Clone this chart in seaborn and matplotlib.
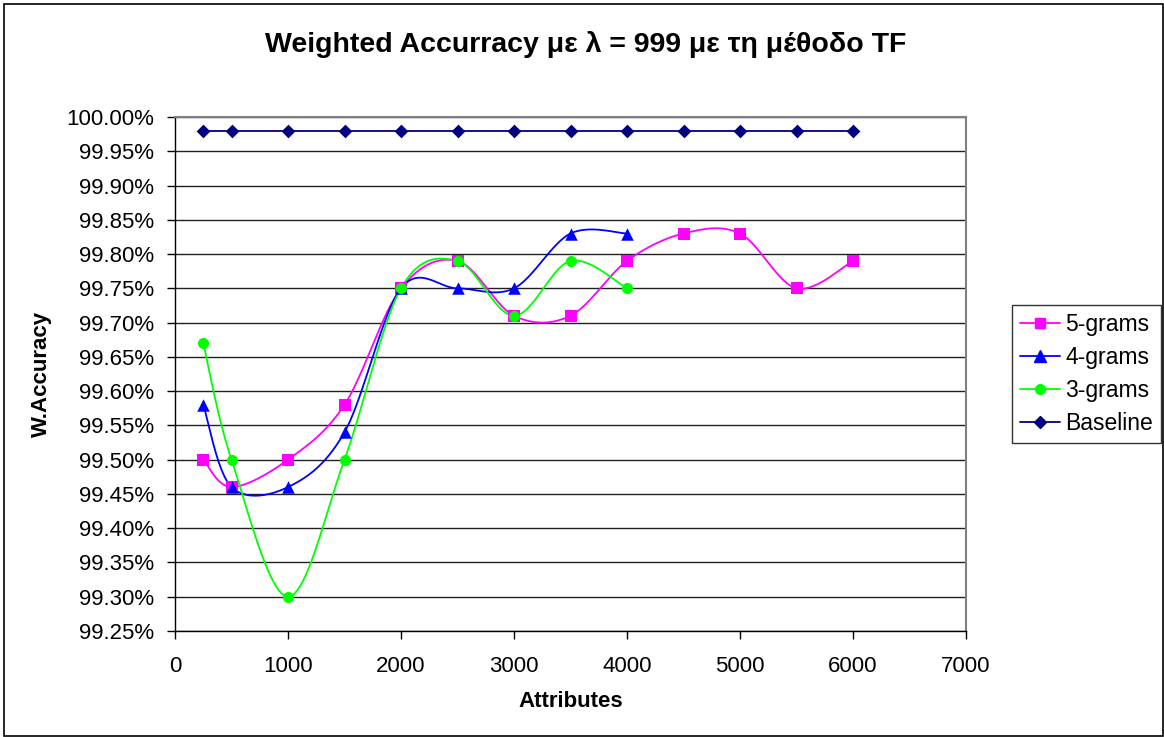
import numpy as np
import pandas as pd
import matplotlib
matplotlib.use("Agg")
import matplotlib.pyplot as plt
from matplotlib.lines import Line2D
from matplotlib.patches import Rectangle
from matplotlib.ticker import FuncFormatter, MultipleLocator
import seaborn as sns

# ---- data ----
x_attrs = [250, 500, 1000, 1500, 2000, 2500, 3000, 3500, 4000, 4500, 5000, 5500, 6000]
grams5 = [99.50, 99.46, 99.50, 99.58, 99.75, 99.79, 99.71, 99.71, 99.79, 99.83, 99.83, 99.75, 99.79]
grams4 = [99.58, 99.46, 99.46, 99.54, 99.75, 99.75, 99.75, 99.83, 99.83]
grams3 = [99.67, 99.50, 99.30, 99.50, 99.75, 99.79, 99.71, 99.79, 99.75]
baseline = [99.98] * 13

series_names = ["5-grams", "4-grams", "3-grams", "Baseline"]
series_vals = [grams5, grams4, grams3, baseline]
colors = ["#FF00FF", "#0000FF", "#00FF00", "#000080"]
markers = ["s", "^", "o", "D"]
msizes = [8, 9, 8, 7]

title = "Weighted Accurracy με λ = 999 με τη μέθοδο TF"
xlabel = "Attributes"
ylabel = "W.Accuracy"


def excel_smooth(xs, ys, n=30):
    """Excel-style smoothed line: cubic Bezier with Catmull-Rom control points."""
    xs = np.asarray(xs, float)
    ys = np.asarray(ys, float)
    sx = 791.0 / 7000.0
    sy = 514.0 / 0.75
    P = np.column_stack([xs * sx, ys * sy])
    out = []
    m = len(P)
    for i in range(m - 1):
        p0 = P[i - 1] if i > 0 else P[i]
        p1 = P[i]
        p2 = P[i + 1]
        p3 = P[i + 2] if i + 2 < m else P[i + 1]
        c1 = p1 + (p2 - p0) / 6.0
        c2 = p2 - (p3 - p1) / 6.0
        t = np.linspace(0, 1, n)[:, None]
        seg = ((1 - t) ** 3) * p1 + 3 * ((1 - t) ** 2) * t * c1 + 3 * (1 - t) * t ** 2 * c2 + t ** 3 * p2
        if i > 0:
            seg = seg[1:]
        out.append(seg)
    out = np.vstack(out)
    return out[:, 0] / sx, out[:, 1] / sy


sns.set_theme(style="white")
plt.rcParams["font.family"] = ["Liberation Sans", "DejaVu Sans"]
plt.rcParams["text.color"] = "black"
plt.rcParams["axes.labelcolor"] = "black"

fig = plt.figure(figsize=(11.64, 7.37), dpi=100)
ax = fig.add_axes([175 / 1164, 1 - 631 / 737, (966 - 175) / 1164, (631 - 117) / 737])

handles = []
for name, vals, c, mk, ms in zip(series_names, series_vals, colors, markers, msizes):
    xs = x_attrs[:len(vals)]
    sx_, sy_ = excel_smooth(xs, vals)
    df_line = pd.DataFrame({"x": sx_, "y": sy_})
    sns.lineplot(data=df_line, x="x", y="y", ax=ax, color=c, lw=1.3, sort=False,
                 estimator=None, zorder=3)
    df_pts = pd.DataFrame({"x": xs, "y": vals})
    sns.scatterplot(data=df_pts, x="x", y="y", ax=ax, color=c, marker=mk, s=ms ** 2,
                    edgecolor=c, linewidth=0, zorder=4)
    handles.append(Line2D([0], [0], color=c, lw=1.3, marker=mk, markersize=ms - 1,
                          markerfacecolor=c, markeredgecolor=c, label=name))

ax.set_xlim(0, 7000)
ax.set_ylim(99.25, 100.0)
ax.xaxis.set_major_locator(MultipleLocator(1000))
ax.yaxis.set_major_locator(MultipleLocator(0.05))
ax.yaxis.set_major_formatter(FuncFormatter(lambda v, p: f"{v:.2f}%"))
ax.grid(True, axis="y", color="#202020", lw=1.0)
ax.grid(False, axis="x")
ax.set_axisbelow(True)
for side in ["top", "right"]:
    ax.spines[side].set_color("#808080")
    ax.spines[side].set_linewidth(1.5)
for side in ["left", "bottom"]:
    ax.spines[side].set_color("black")
    ax.spines[side].set_linewidth(1.0)
ax.tick_params(axis="both", which="major", direction="out", length=6, width=1,
               color="black", labelsize=16, labelcolor="black", bottom=True, left=True)
ax.tick_params(axis="x", pad=12)
ax.tick_params(axis="y", pad=9)

ax.set_xlabel(xlabel, fontsize=16, fontweight="bold", labelpad=10, color="black")
ax.set_ylabel(ylabel, fontsize=16, fontweight="bold", labelpad=10, color="black")
fig.text(586 / 1164, 1 - 45 / 737, title, ha="center", va="center",
         fontsize=20.5, fontweight="bold", color="black")

leg = fig.legend(handles=handles, loc="center left", bbox_to_anchor=(1012 / 1164, 1 - 374 / 737),
                 fontsize=16.5, frameon=True, fancybox=False, edgecolor="black",
                 handlelength=1.75, borderpad=0.35, labelspacing=0.45, handletextpad=0.22,
                 borderaxespad=0.0)
leg.get_frame().set_linewidth(1.0)

fig.patches.append(Rectangle((4 / 1164, 1 / 737), 1 - 5 / 1164, 1 - 5 / 737,
                             transform=fig.transFigure, fill=False, edgecolor="black", lw=1.2))

fig.savefig("out.png", dpi=100)
